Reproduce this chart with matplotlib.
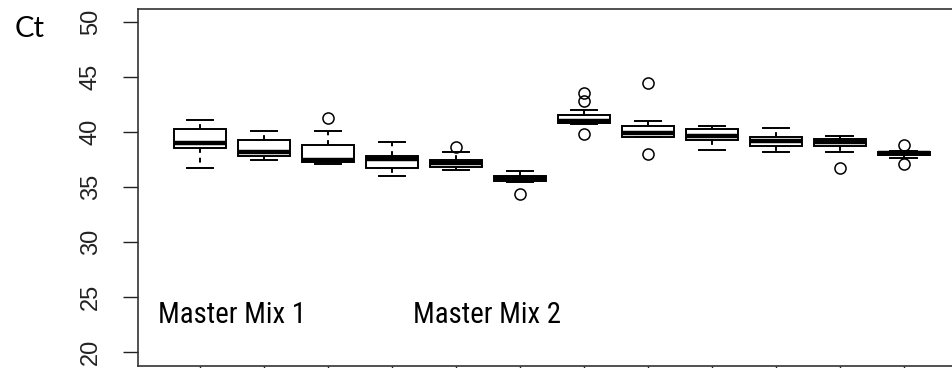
import matplotlib
matplotlib.use("Agg")
import matplotlib.pyplot as plt
from matplotlib import font_manager

# box statistics (Ct values)
positions = list(range(1, 13))
q1 = [38.50, 37.85, 37.24, 36.73, 36.85, 35.55, 40.79, 39.57, 39.27, 38.73, 38.73, 37.88]
med = [39.03, 38.14, 37.45, 37.52, 37.15, 35.80, 40.97, 39.92, 39.68, 39.14, 39.05, 38.06]
q3 = [40.25, 39.25, 38.79, 37.82, 37.45, 36.03, 41.55, 40.55, 40.27, 39.55, 39.36, 38.20]
whislo = [36.73, 37.45, 37.06, 36.00, 36.57, 35.45, 40.75, 39.55, 38.33, 38.21, 38.18, 37.60]
whishi = [41.09, 40.09, 40.10, 39.06, 38.18, 36.45, 41.97, 40.97, 40.55, 40.36, 39.64, 38.30]
fliers = [[], [], [41.24], [], [38.60], [34.36], [43.52, 42.85, 39.79],
          [44.48, 38.03], [], [], [36.76], [38.85, 37.09]]

yticks = [20, 25, 30, 35, 40, 45, 50]
labels = ["Master Mix 1", "Master Mix 2"]
label_x = [0.34, 4.33]


def narrow_font():
    # the overlay text in the picture is a squeezed sans, look for a condensed face
    prefer = ["Liberation Sans Narrow", "Roboto Condensed", "Open Sans Condensed",
              "Noto Sans Condensed", "DejaVu Sans Condensed", "DejaVu Sans", "Noto Sans",
              "Open Sans"]
    found = []
    for f in font_manager.fontManager.ttflist:
        cond = str(f.stretch) in ("condensed", "semi-condensed") or "Narrow" in f.name \
            or "Condensed" in f.name or "Condensed" in f.fname
        if not cond or f.style != "normal" or str(f.weight) not in ("400", "normal", "regular"):
            continue
        if "Mono" in f.name or "Serif" in f.name or "Bold" in f.fname or "Italic" in f.fname:
            continue
        rank = prefer.index(f.name) if f.name in prefer else len(prefer)
        found.append((rank, f.fname))
    if found:
        found.sort()
        return font_manager.FontProperties(fname=found[0][1])
    return font_manager.FontProperties(family=["Lato", "DejaVu Sans"])


stats = []
for i in range(len(positions)):
    stats.append(dict(med=med[i], q1=q1[i], q3=q3[i], whislo=whislo[i],
                      whishi=whishi[i], fliers=fliers[i]))

fig = plt.figure(figsize=(9.53, 3.68), dpi=100)
ax = fig.add_axes([138 / 953, 2 / 368, 828 / 953, 357 / 368])

ax.bxp(stats, positions=positions, widths=0.8, capwidths=0.42,
       patch_artist=True, manage_ticks=False,
       boxprops=dict(facecolor="white", edgecolor="black", linewidth=1.4),
       medianprops=dict(color="black", linewidth=3.2, solid_capstyle="butt"),
       whiskerprops=dict(color="black", linewidth=1.4, linestyle=(0, (2.5, 2.5))),
       capprops=dict(color="black", linewidth=1.4),
       flierprops=dict(marker="o", markerfacecolor="none", markeredgecolor="black",
                       markersize=8, markeredgewidth=1.1))

ax.set_xlim(0.031, 12.97)
ax.set_ylim(18.73, 51.18)
ax.set_xticks(positions)
ax.set_xticklabels([""] * len(positions))
ax.set_yticks(yticks)
ax.set_yticklabels([str(v) for v in yticks], rotation=90, va="center",
                   family=["Liberation Sans", "DejaVu Sans"], fontsize=17, color="#222222")
ax.tick_params(axis="y", length=11, width=1, pad=15, color="#222222")
ax.tick_params(axis="x", length=11, width=1, color="#222222")
for s in ax.spines.values():
    s.set_color("#333333")
    s.set_linewidth(1.2)

fp = narrow_font()
fp.set_size(24)
texts = []
for t, x in zip(labels, label_x):
    texts.append(ax.text(x, 22.64, t, ha="left", va="baseline", fontproperties=fp.copy()))

# fit the label width to the ~148 px it spans in the picture
fig.canvas.draw()
w = texts[0].get_window_extent().width
for t in texts:
    t.set_fontsize(24 * 148 / w)

fig.text(15 / 953, 1 - 37 / 368, "Ct", ha="left", va="baseline", fontsize=21,
         family=["Lato", "DejaVu Sans"])

fig.savefig("out.png", dpi=100)
